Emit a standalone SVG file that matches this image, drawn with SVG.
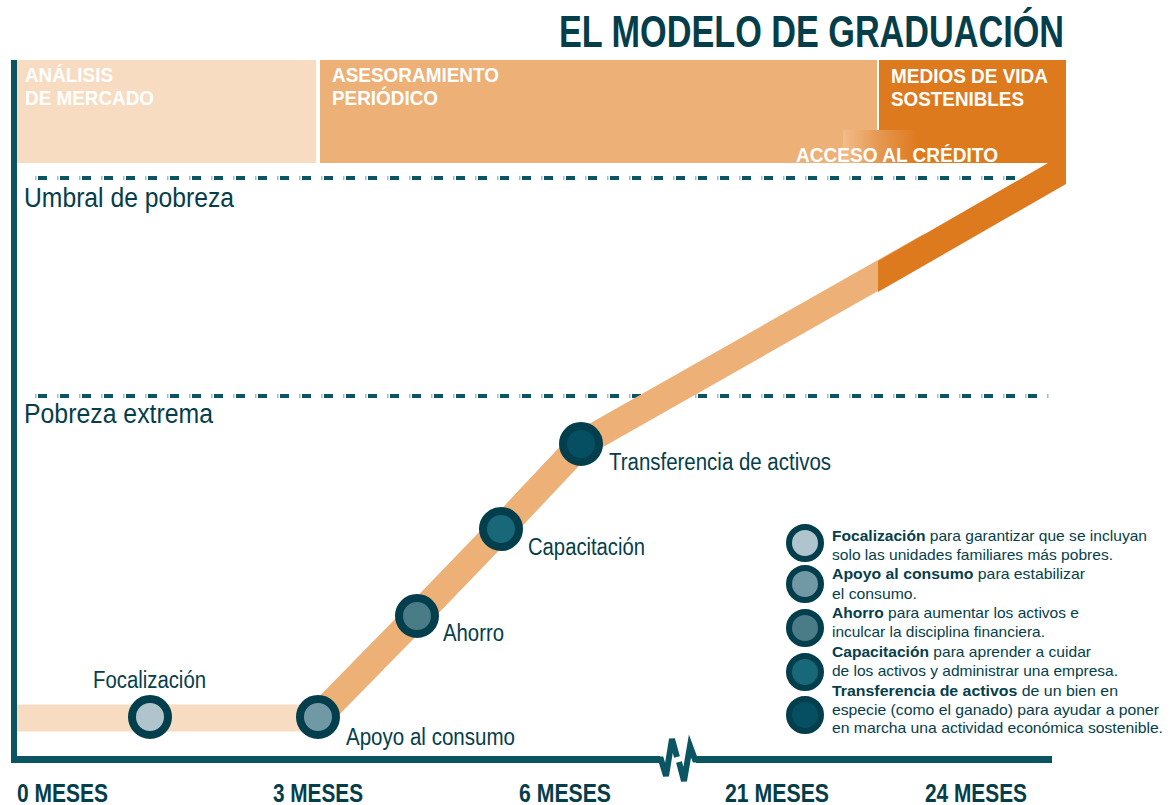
<svg xmlns="http://www.w3.org/2000/svg" width="1170" height="805" viewBox="0 0 1170 805">
<defs>
<style>
.t{font-family:"Liberation Sans Narrow","Liberation Sans",Arial,sans-serif;fill:#053E4B}
.b{font-weight:bold}
.w{fill:#FFFFFF}
.lg{font-family:"Liberation Sans",Arial,sans-serif;font-size:15px;fill:#053E4B}
.ring{stroke:#023E4C;stroke-width:8}
.lring{stroke:#023E4C;stroke-width:6}
.dash{stroke:#0B5563;stroke-width:4;stroke-dasharray:9 13;stroke-dashoffset:9}
.tick{stroke:#9DBFC5;stroke-width:4;stroke-dasharray:1.5 20.5}
</style>
<linearGradient id="acc" x1="0" y1="0" x2="1" y2="0">
<stop offset="0" stop-color="#F2BC8A"/>
<stop offset="0.45" stop-color="#E69A55"/>
<stop offset="1" stop-color="#DE7A1E"/>
</linearGradient>
</defs>
<rect width="1170" height="805" fill="#FFFFFF"/>

<g id="title">
<text class="t b" x="559" y="47" font-size="45" textLength="505" lengthAdjust="spacingAndGlyphs">EL MODELO DE GRADUACIÓN</text>
</g>

<g id="phase-analisis">
<rect x="17" y="60" width="299" height="103" fill="#F8DCC2"/>
<text class="t b w" x="25" y="82" font-size="20" textLength="88" lengthAdjust="spacingAndGlyphs">ANÁLISIS</text>
<text class="t b w" x="25" y="105" font-size="20" textLength="129" lengthAdjust="spacingAndGlyphs">DE MERCADO</text>
</g>
<g id="phase-asesoramiento">
<rect x="320" y="60" width="557" height="103" fill="#EDB077"/>
<text class="t b w" x="332" y="82" font-size="20" textLength="167" lengthAdjust="spacingAndGlyphs">ASESORAMIENTO</text>
<text class="t b w" x="332" y="105" font-size="20" textLength="106" lengthAdjust="spacingAndGlyphs">PERIÓDICO</text>
</g>

<g id="thresholds">
<line class="dash" x1="25" y1="178" x2="1050" y2="178"/>
<line class="tick" x1="35" y1="178" x2="1050" y2="178"/>
<line class="dash" x1="25" y1="396" x2="1050" y2="396"/>
<line class="tick" x1="35" y1="396" x2="1050" y2="396"/>
<text class="t" x="24" y="207" font-size="27" textLength="210" lengthAdjust="spacingAndGlyphs">Umbral de pobreza</text>
<text class="t" x="24" y="423" font-size="27" textLength="189" lengthAdjust="spacingAndGlyphs">Pobreza extrema</text>
</g>

<g id="connectors" fill="none">
<line x1="17" y1="718" x2="318" y2="718" stroke="#F8DCC2" stroke-width="27"/>
<polyline points="318,717 417,616 501,529 581,444 930,246" stroke="#EDB077" stroke-width="27" stroke-linejoin="round"/>
</g>

<g id="phase-medios">
<polygon points="879,60 1066,60 1066,184 878,292 878,261 1048,163 879,163" fill="#DE7A1E"/>
<rect x="843" y="130" width="74" height="33" fill="url(#acc)"/>
<text class="t b w" x="891" y="83" font-size="20" textLength="157" lengthAdjust="spacingAndGlyphs">MEDIOS DE VIDA</text>
<text class="t b w" x="891" y="106" font-size="20" textLength="133" lengthAdjust="spacingAndGlyphs">SOSTENIBLES</text>
<text class="t b w" x="796" y="162" font-size="21" textLength="202" lengthAdjust="spacingAndGlyphs">ACCESO AL CRÉDITO</text>
</g>

<g id="axes" fill="none" stroke="#0B5563">
<line x1="14" y1="60" x2="14" y2="763" stroke-width="6"/>
<line x1="11" y1="759.5" x2="660" y2="759.5" stroke-width="7"/>
<line x1="696" y1="759.5" x2="1052" y2="759.5" stroke-width="7"/>
<polyline points="656,759.5 661,759.5 666,776 672,739 677,757" stroke-width="6" stroke-linejoin="miter"/>
<polyline points="679,762 684,781 690,746 695,759.5 700,759.5" stroke-width="6" stroke-linejoin="miter"/>
</g>

<g id="axis-labels">
<text class="t b" x="17" y="802" font-size="25" textLength="91" lengthAdjust="spacingAndGlyphs">0 MESES</text>
<text class="t b" x="273" y="802" font-size="25" textLength="90" lengthAdjust="spacingAndGlyphs">3 MESES</text>
<text class="t b" x="519" y="802" font-size="25" textLength="92" lengthAdjust="spacingAndGlyphs">6 MESES</text>
<text class="t b" x="725" y="802" font-size="25" textLength="104" lengthAdjust="spacingAndGlyphs">21 MESES</text>
<text class="t b" x="925" y="802" font-size="25" textLength="102" lengthAdjust="spacingAndGlyphs">24 MESES</text>
</g>

<g id="node-focalizacion">
<circle class="ring" cx="150" cy="717" r="18" fill="#B0C4CE"/>
<text class="t" x="93" y="688" font-size="23" textLength="113" lengthAdjust="spacingAndGlyphs">Focalización</text>
</g>
<g id="node-apoyo">
<circle class="ring" cx="318" cy="717" r="18" fill="#7099A5"/>
<text class="t" x="346" y="745" font-size="23" textLength="169" lengthAdjust="spacingAndGlyphs">Apoyo al consumo</text>
</g>
<g id="node-ahorro">
<circle class="ring" cx="417" cy="616" r="18" fill="#4A7C88"/>
<text class="t" x="443" y="641" font-size="23" textLength="61" lengthAdjust="spacingAndGlyphs">Ahorro</text>
</g>
<g id="node-capacitacion">
<circle class="ring" cx="501" cy="529" r="18" fill="#18687A"/>
<text class="t" x="528" y="555" font-size="23" textLength="117" lengthAdjust="spacingAndGlyphs">Capacitación</text>
</g>
<g id="node-transferencia">
<circle class="ring" cx="581" cy="444" r="18" fill="#064F62"/>
<text class="t" x="609" y="470" font-size="23" textLength="222" lengthAdjust="spacingAndGlyphs">Transferencia de activos</text>
</g>

<g id="legend">
<circle class="lring" cx="805" cy="543" r="16" fill="#B0C4CE"/>
<circle class="lring" cx="805" cy="584" r="16" fill="#7099A5"/>
<circle class="lring" cx="805" cy="628" r="16" fill="#4A7C88"/>
<circle class="lring" cx="805" cy="672" r="16" fill="#18687A"/>
<circle class="lring" cx="805" cy="715" r="16" fill="#064F62"/>
<text class="lg" x="832" y="541" textLength="315" lengthAdjust="spacingAndGlyphs"><tspan font-weight="bold">Focalización</tspan> para garantizar que se incluyan</text>
<text class="lg" x="832" y="560" textLength="281" lengthAdjust="spacingAndGlyphs">solo las unidades familiares más pobres.</text>
<text class="lg" x="832" y="579" textLength="253" lengthAdjust="spacingAndGlyphs"><tspan font-weight="bold">Apoyo al consumo</tspan> para estabilizar</text>
<text class="lg" x="832" y="599" textLength="85" lengthAdjust="spacingAndGlyphs">el consumo.</text>
<text class="lg" x="832" y="618" textLength="247" lengthAdjust="spacingAndGlyphs"><tspan font-weight="bold">Ahorro</tspan> para aumentar los activos e</text>
<text class="lg" x="832" y="637" textLength="213" lengthAdjust="spacingAndGlyphs">inculcar la disciplina financiera.</text>
<text class="lg" x="832" y="657" textLength="259" lengthAdjust="spacingAndGlyphs"><tspan font-weight="bold">Capacitación</tspan> para aprender a cuidar</text>
<text class="lg" x="832" y="676" textLength="286" lengthAdjust="spacingAndGlyphs">de los activos y administrar una empresa.</text>
<text class="lg" x="832" y="696" textLength="286" lengthAdjust="spacingAndGlyphs"><tspan font-weight="bold">Transferencia de activos</tspan> de un bien en</text>
<text class="lg" x="832" y="715" textLength="327" lengthAdjust="spacingAndGlyphs">especie (como el ganado) para ayudar a poner</text>
<text class="lg" x="832" y="733" textLength="331" lengthAdjust="spacingAndGlyphs">en marcha una actividad económica sostenible.</text>
</g>
</svg>
